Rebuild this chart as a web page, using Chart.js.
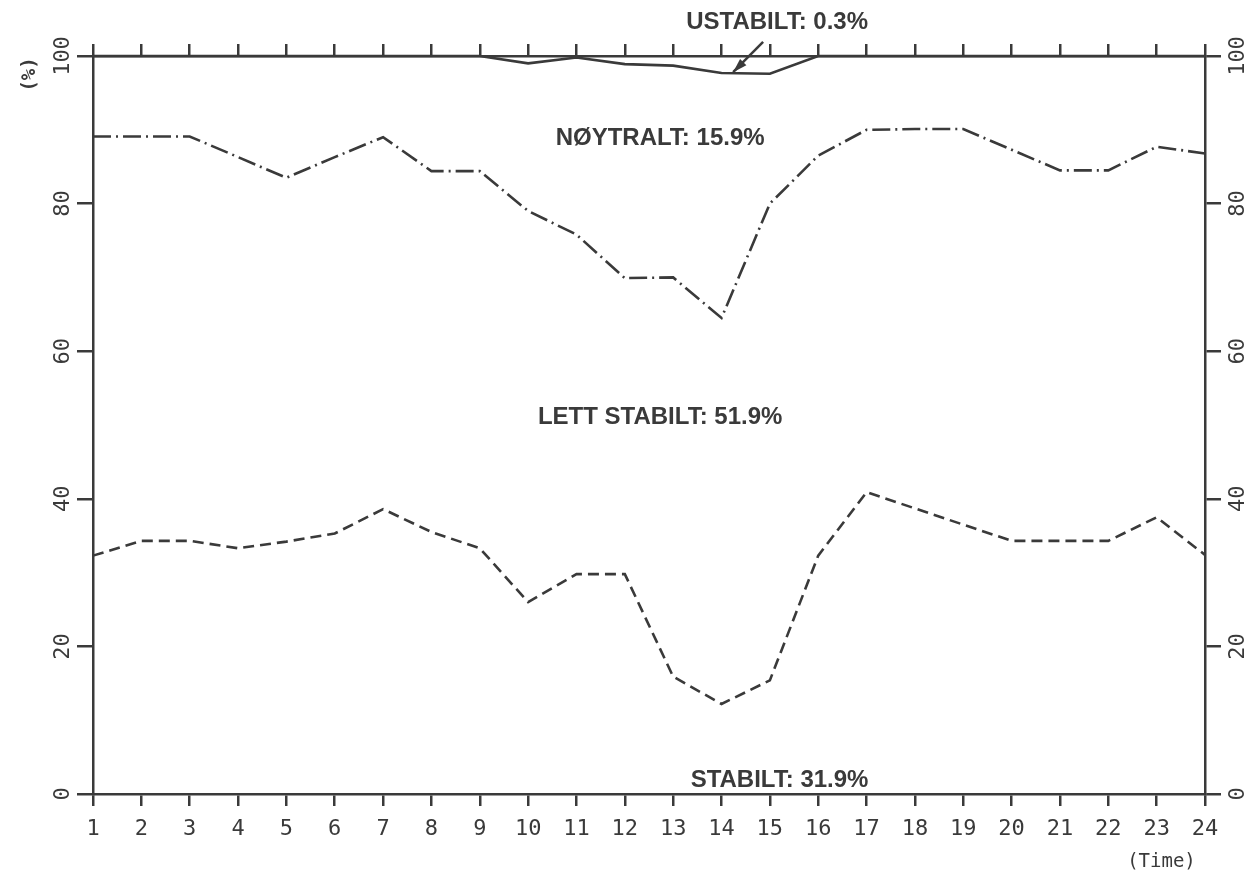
<!DOCTYPE html>
<html>
<head>
<meta charset="utf-8">
<script src="https://cdn.jsdelivr.net/npm/chart.js@4/dist/chart.umd.min.js"></script>
<style>
  html, body { margin: 0; padding: 0; background: #ffffff; }
  #wrap { position: relative; width: 1251px; height: 878px; }
</style>
</head>
<body>
<div id="wrap"><canvas id="stabChart"></canvas></div>
<script>
// hours of the day
var hours = ['1','2','3','4','5','6','7','8','9','10','11','12','13','14','15','16','17','18','19','20','21','22','23','24'];
var yTicks = [0, 20, 40, 60, 80, 100];

// boundary curves, cumulative % from the bottom
var stabiltLine = [32.3, 34.3, 34.3, 33.3, 34.2, 35.3, 38.6, 35.5, 33.3, 26.0, 29.8, 29.8,
                   15.9, 12.2, 15.4, 32.3, 40.9, 38.7, 36.5, 34.3, 34.3, 34.3, 37.5, 32.4];
var noytraltLine = [89.1, 89.1, 89.1, 86.3, 83.5, 86.3, 89.0, 84.4, 84.4, 79.0, 75.8, 69.9,
                    70.0, 64.5, 80.0, 86.5, 90.0, 90.1, 90.1, 87.3, 84.5, 84.5, 87.7, 86.8];
var ustabiltLine = [100, 100, 100, 100, 100, 100, 100, 100, 100, 99.0, 99.8, 98.9,
                    98.7, 97.7, 97.6, 100, 100, 100, 100, 100, 100, 100, 100, 100];

// class labels, placed in data units [hour index, %]
var classLabels = [
  { text: 'USTABILT: 0.3%', at: [14.15, 104.6] },
  { text: 'NØYTRALT: 15.9%', at: [11.73, 88.9] },
  { text: 'LETT STABILT: 51.9%', at: [11.73, 51.1] },
  { text: 'STABILT: 31.9%', at: [14.2, 1.8] }
];
var arrowFrom = [13.86, 101.9];
var arrowTo = [13.24, 97.8];

var INK = '#3a3a3a';
var MONO = '"DejaVu Sans Mono", monospace';

function drawRotated(ctx, text, x, y) {
    ctx.save();
    ctx.translate(x, y);
    ctx.rotate(-Math.PI / 2);
    ctx.fillText(text, 0, 0);
    ctx.restore();
}

var textPlugin = {
    id: 'textPlugin',
    afterDraw: function (chart) {
        var ctx = chart.ctx;
        var xs = chart.scales.x;
        var ys = chart.scales.y;
        var area = chart.chartArea;
        ctx.save();
        ctx.fillStyle = INK;
        ctx.textAlign = 'center';
        ctx.textBaseline = 'middle';

        // y tick labels, turned like the plotter did
        ctx.font = '22px ' + MONO;
        yTicks.forEach(function (v) {
            var py = ys.getPixelForValue(v);
            drawRotated(ctx, String(v), area.left - 30, py);
            drawRotated(ctx, String(v), area.right + 33, py);
        });

        ctx.font = 'bold 19px ' + MONO;
        drawRotated(ctx, '(%)', 30, ys.getPixelForValue(97.5));
        ctx.font = '19px ' + MONO;
        ctx.fillText('(Time)', xs.getPixelForValue(22.1), area.bottom + 68);

        ctx.font = 'bold 24px "Liberation Sans", Arial, sans-serif';
        classLabels.forEach(function (l) {
            ctx.fillText(l.text, xs.getPixelForValue(l.at[0]), ys.getPixelForValue(l.at[1]));
        });

        // arrow to the ustabilt curve
        var x1 = xs.getPixelForValue(arrowFrom[0]), y1 = ys.getPixelForValue(arrowFrom[1]);
        var x2 = xs.getPixelForValue(arrowTo[0]), y2 = ys.getPixelForValue(arrowTo[1]);
        ctx.strokeStyle = INK;
        ctx.lineWidth = 2.5;
        ctx.beginPath();
        ctx.moveTo(x1, y1);
        ctx.lineTo(x2, y2);
        ctx.stroke();
        var ang = Math.atan2(y2 - y1, x2 - x1);
        ctx.beginPath();
        ctx.moveTo(x2, y2);
        ctx.lineTo(x2 - 15 * Math.cos(ang - 0.3), y2 - 15 * Math.sin(ang - 0.3));
        ctx.lineTo(x2 - 15 * Math.cos(ang + 0.3), y2 - 15 * Math.sin(ang + 0.3));
        ctx.closePath();
        ctx.fill();
        ctx.restore();
    }
};

function lineSet(label, data, dash) {
    return {
        label: label,
        data: data,
        borderColor: INK,
        borderWidth: 2.6,
        borderDash: dash,
        pointRadius: 0,
        tension: 0,
        fill: false,
        clip: 6
    };
}

var axisGrid = function (len) {
    return { display: true, drawOnChartArea: false, drawTicks: true, tickLength: len, color: INK, lineWidth: 2.5 };
};
var axisBorder = { display: true, color: INK, width: 2.5 };

var stabChart = new Chart(document.getElementById('stabChart'), {
    type: 'line',
    data: {
        labels: hours,
        datasets: [
            lineSet('Ustabilt', ustabiltLine, []),
            lineSet('Nøytralt', noytraltLine, [18, 5, 2, 5]),
            lineSet('Stabilt', stabiltLine, [11, 6])
        ]
    },
    options: {
        responsive: true,
        maintainAspectRatio: false,
        animation: false,
        layout: { padding: 0 },
        plugins: { legend: { display: false }, tooltip: { enabled: false } },
        scales: {
            x: {
                type: 'category',
                position: 'bottom',
                offset: false,
                grid: axisGrid(12),
                border: axisBorder,
                ticks: { color: INK, font: { family: MONO, size: 22 }, padding: 10, maxRotation: 0, autoSkip: false },
                afterFit: function (s) { s.height = 84; }
            },
            xTop: {
                type: 'category',
                position: 'top',
                labels: hours,
                offset: false,
                grid: axisGrid(12),
                border: axisBorder,
                ticks: { display: false },
                afterFit: function (s) { s.height = 56; }
            },
            y: {
                type: 'linear',
                position: 'left',
                min: 0,
                max: 100,
                grid: axisGrid(16),
                border: axisBorder,
                ticks: { display: false, stepSize: 20 },
                afterFit: function (s) { s.width = 93; }
            },
            yRight: {
                type: 'linear',
                position: 'right',
                min: 0,
                max: 100,
                grid: axisGrid(16),
                border: axisBorder,
                ticks: { display: false, stepSize: 20 },
                afterFit: function (s) { s.width = 46; }
            }
        }
    },
    plugins: [textPlugin]
});
</script>
</body>
</html>
